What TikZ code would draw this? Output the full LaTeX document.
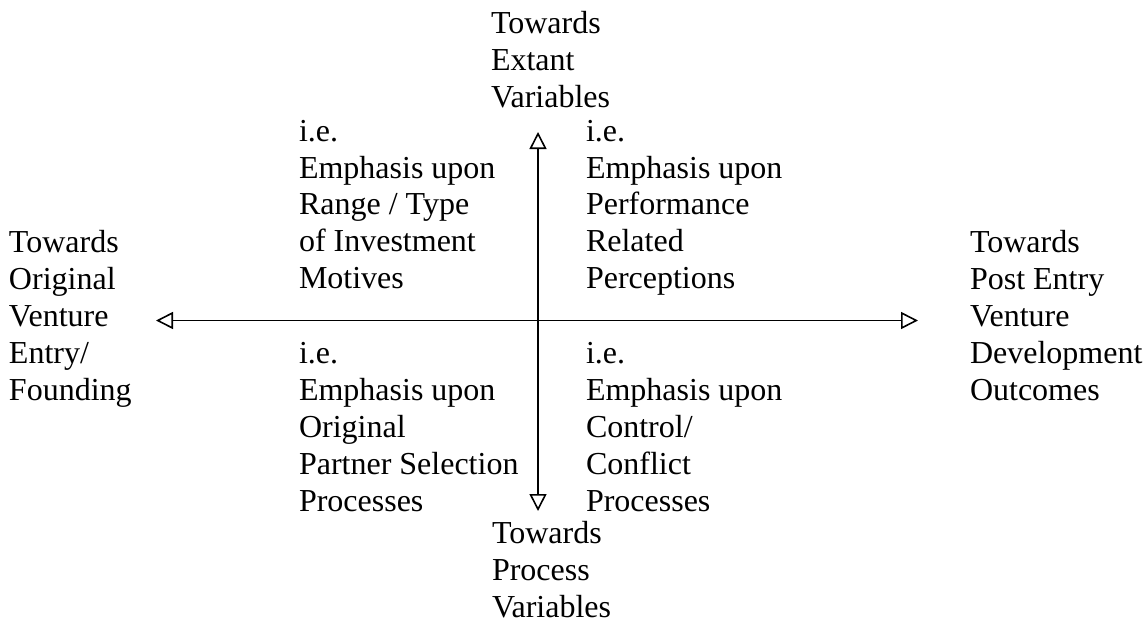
\documentclass[tikz,border=0pt]{standalone}
\usepackage{fontspec}
\setmainfont{Liberation Serif}
\usetikzlibrary{arrows.meta}
\tikzset{
  lbl/.style={anchor=base west, inner sep=0pt, outer sep=0pt, align=left,
    font=\fontsize{32}{36.8}\selectfont},
  axis/.style={line width=1.8pt,
    {Triangle[open,length=17pt,width=17pt,line width=1.6pt]}-{Triangle[open,length=17pt,width=17pt,line width=1.6pt]}}
}
\begin{document}
\begin{tikzpicture}[x=1pt,y=-1pt]
\useasboundingbox (0,0) rectangle (1148,623);
% anchors are at the baseline of the last line of each block
\node[lbl] (top) at (491,107.5) {Towards\\Extant\\Variables};
\node[lbl] (tl) at (299,288.5) {i.e.\\Emphasis upon\\Range / Type\\of Investment\\Motives};
\node[lbl] (tr) at (586,288.5) {i.e.\\Emphasis upon\\Performance\\Related\\Perceptions};
\node[lbl] (left) at (9,400) {Towards\\Original\\Venture\\Entry/\\Founding};
\node[lbl] (right) at (970,400) {Towards\\Post Entry\\Venture\\Development\\Outcomes};
\node[lbl] (bl) at (299,511) {i.e.\\Emphasis upon\\Original\\Partner Selection\\Processes};
\node[lbl] (br) at (586,511) {i.e.\\Emphasis upon\\Control/\\Conflict\\Processes};
\node[lbl] (bot) at (492,617) {Towards\\Process\\Variables};
\coordinate (N) at (538,132);
\coordinate (S) at (538,511);
\coordinate (W) at (156,320.5);
\coordinate (E) at (918,320.5);
\draw[axis] (W) -- (E);
\draw[axis] (S) -- (N);
\end{tikzpicture}
\end{document}
